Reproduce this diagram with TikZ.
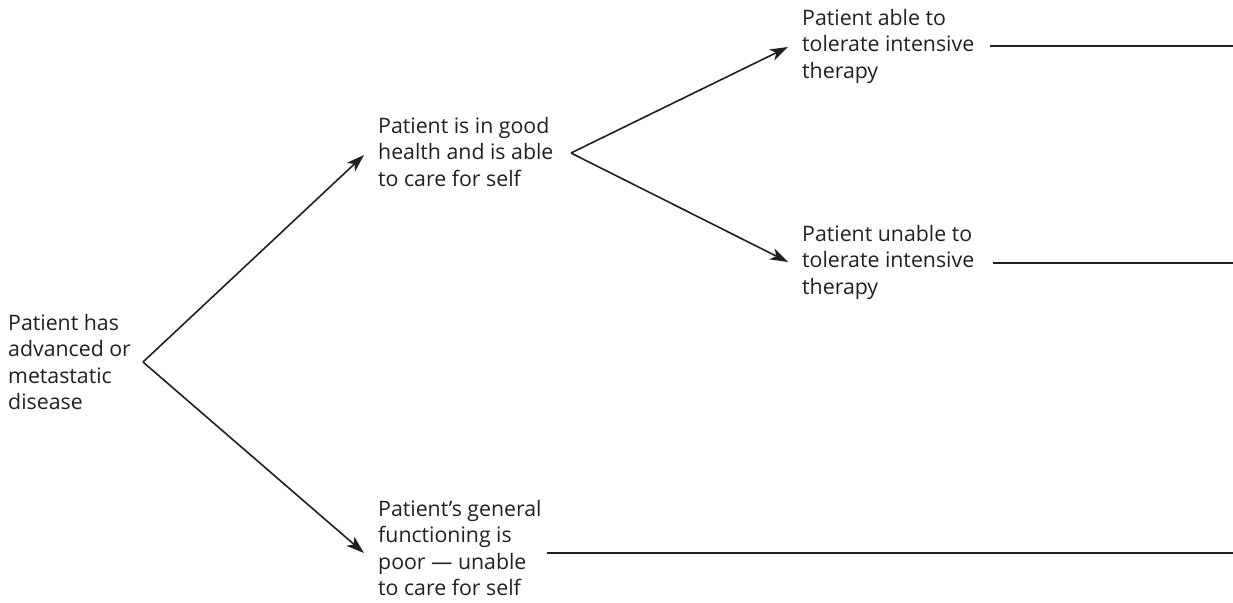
\documentclass[tikz,border=0pt]{standalone}
\usepackage{fontspec}
\setmainfont{Open Sans}
\usetikzlibrary{arrows.meta,calc}
\definecolor{ink}{HTML}{231F20}
\begin{document}
\begin{tikzpicture}[x=1pt,y=-1pt,
  label/.style={anchor=west,align=left,inner sep=0pt,text=ink,
    font=\fontsize{21.3}{26.5}\selectfont},
  link/.style={draw=ink,line width=1.6pt},
  arrow/.style={link,-{Stealth[length=18pt,width=12pt,inset=5pt]}}]
\useasboundingbox (0,0) rectangle (1233,602);

% decision labels
\node[label] (a) at (8,362) {Patient has\\advanced or\\metastatic\\disease};
\node[label] (b) at (378,152) {Patient is in good\\health and is able\\to care for self};
\node[label] (c) at (802,46) {Patient able to\\tolerate intensive\\therapy};
\node[label] (d) at (802,262) {Patient unable to\\tolerate intensive\\therapy};
\node[label] (e) at (378,548) {Patient’s general\\functioning is\\poor — unable\\to care for self};

% branch points and arrow tips
\coordinate (v1) at (143,362);
\coordinate (v2) at (571,153);
\coordinate (b-in) at (364,155);
\coordinate (e-in) at (364,553);
\coordinate (c-in) at (788,47);
\coordinate (d-in) at (788,262);

% outcome rules running to the right edge
\coordinate (c-out) at (990,46);
\coordinate (c-end) at (1233,46);
\coordinate (d-out) at (993,263);
\coordinate (d-end) at (1233,263);
\coordinate (e-out) at (547,553);
\coordinate (e-end) at (1233,553);

\draw[arrow] (v1) -- (b-in);
\draw[arrow] (v1) -- (e-in);
\draw[arrow] (v2) -- (c-in);
\draw[arrow] (v2) -- (d-in);

\draw[link] (c-out) -- (c-end);
\draw[link] (d-out) -- (d-end);
\draw[link] (e-out) -- (e-end);
\end{tikzpicture}
\end{document}
